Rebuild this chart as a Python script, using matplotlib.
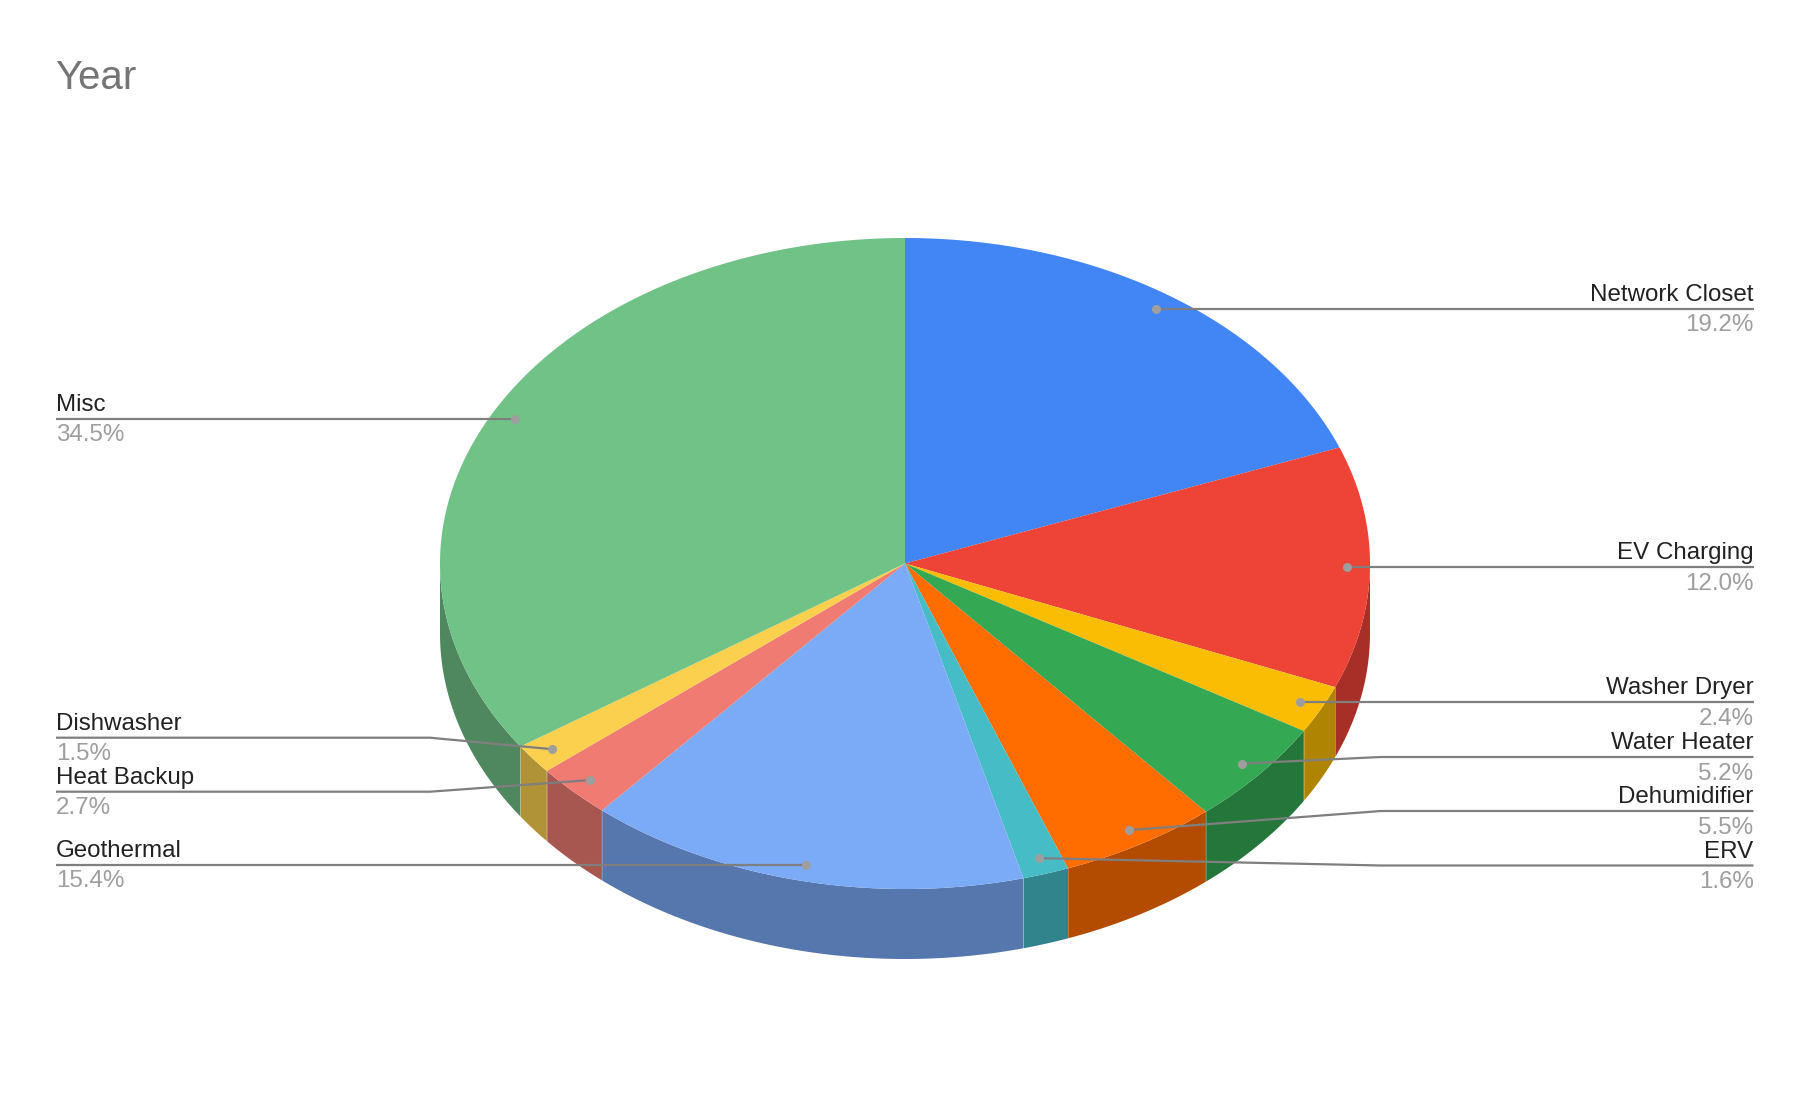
import numpy as np
import matplotlib
matplotlib.use('Agg')
import matplotlib.pyplot as plt

plt.rcParams['font.family'] = ['Liberation Sans', 'DejaVu Sans']

title = 'Year'
labels = ['Network Closet', 'EV Charging', 'Washer Dryer', 'Water Heater', 'Dehumidifier',
          'ERV', 'Geothermal', 'Heat Backup', 'Dishwasher', 'Misc']
values = [19.2, 12.0, 2.4, 5.2, 5.5, 1.6, 15.4, 2.7, 1.5, 34.5]
colors = ['#4285F4', '#EE4337', '#FBBC04', '#34A853', '#FF6D01',
          '#46BDC6', '#7BAAF7', '#F07B72', '#FCD04F', '#71C287']

# pie geometry, in pixels
cx, cy = 905, 563.5
rx, ry = 465, 325.5
depth = 70
dot_r = 0.95
left_x, right_x = 56, 1753.5
knee_left, knee_right = 430, 1381

# labels pushed off their dot height so they don't collide
line_y = {'Water Heater': 757, 'Dehumidifier': 811, 'ERV': 865.5,
          'Heat Backup': 791.7, 'Dishwasher': 737.7}


def arc(a, b):
    t = np.linspace(a, b, max(int(abs(b - a)) * 2, 2))
    return cx + rx * np.sin(np.radians(t)), cy - ry * np.cos(np.radians(t))


def darker(c):
    return tuple(v * 0.7 for v in matplotlib.colors.to_rgb(c))


fig = plt.figure(figsize=(18.1, 11.2), dpi=100)
ax = fig.add_axes([0, 0, 1, 1])
ax.set_xlim(0, 1810)
ax.set_ylim(1120, 0)
ax.axis('off')

edges = np.cumsum([0] + values) / sum(values) * 360

# side wall, only the front half of the ellipse shows
for i, c in enumerate(colors):
    a, b = max(edges[i], 90), min(edges[i + 1], 270)
    if b <= a:
        continue
    x, y = arc(a, b)
    ax.fill(np.r_[x, x[::-1]], np.r_[y, y[::-1] + depth], color=darker(c), lw=0, zorder=1)
    if a > 90:
        ax.plot([x[0], x[0]], [y[0], y[0] + depth], color='white', alpha=0.22, lw=0.7, zorder=2)

# top face
for i, c in enumerate(colors):
    x, y = arc(edges[i], edges[i + 1])
    ax.fill(np.r_[cx, x], np.r_[cy, y], color=c, lw=0, zorder=3)

# callouts
for i, name in enumerate(labels):
    mid = np.radians((edges[i] + edges[i + 1]) / 2)
    dx = cx + rx * dot_r * np.sin(mid)
    dy = cy - ry * dot_r * np.cos(mid)
    ly = line_y.get(name, dy)
    right = dx > cx
    end, knee = (right_x, knee_right) if right else (left_x, knee_left)
    ax.plot([end, knee, dx], [ly, ly, dy], color='#7f7f7f', lw=1.6, zorder=4,
            solid_joinstyle='round', solid_capstyle='butt')
    ax.plot(dx, dy, 'o', color='#9e9e9e', ms=6.5, mew=0, zorder=5)
    ha = 'right' if right else 'left'
    ax.text(end, ly - 8, name, ha=ha, va='baseline', fontsize=17.4, color='#222222', zorder=6)
    ax.text(end, ly + 22.5, '%.1f%%' % values[i], ha=ha, va='baseline', fontsize=17.4,
            color='#9e9e9e', zorder=6)

ax.text(55.5, 89, title, ha='left', va='baseline', fontsize=29, color='#757575')

fig.savefig('out.png', dpi=100)
